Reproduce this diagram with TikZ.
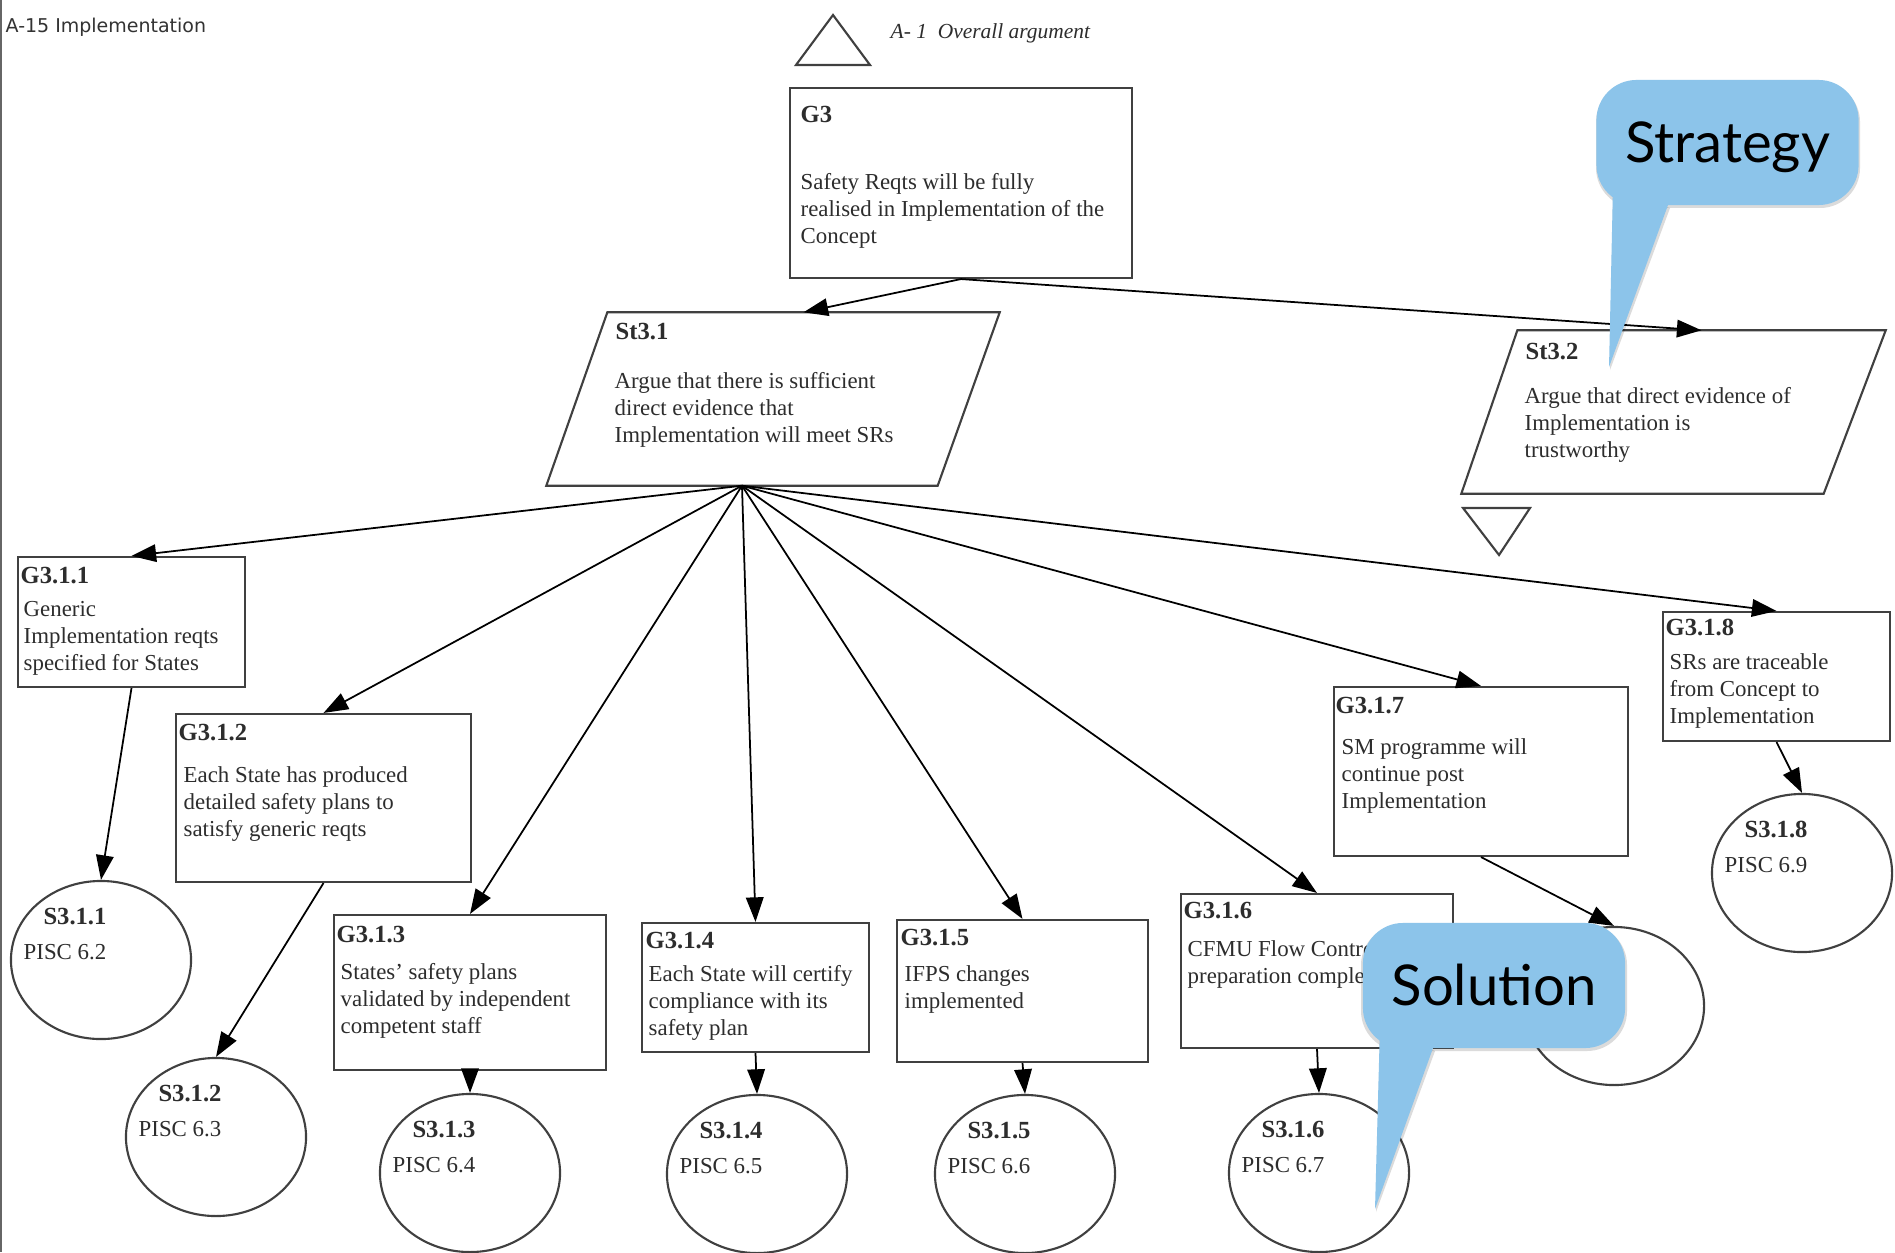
\documentclass[tikz,border=0pt]{standalone}
\usepackage{fontspec}
\setmainfont{Liberation Serif}
\newfontfamily\sheetfont{DejaVu Sans}
\newfontfamily\bubblefont{Lato}
\usetikzlibrary{arrows.meta,shapes.geometric,fit}
\definecolor{bubblecol}{RGB}{140,196,234}
\definecolor{ink}{RGB}{45,45,45}

\begin{document}
\begin{tikzpicture}[x=0.01cm, y=-0.01cm,
	outline/.style={draw=black!75, line width=0.6pt},
	goal/.style={outline, inner sep=0pt},
	soln/.style={outline, ellipse, minimum width=1.8cm, minimum height=1.58cm, inner sep=0pt},
	ttl/.style={anchor=base west, inner sep=0pt, font=\fontsize{7}{8}\selectfont\bfseries, text=ink},
	stl/.style={anchor=base, inner sep=0pt, font=\fontsize{7}{8}\selectfont\bfseries, text=ink},
	txt/.style={anchor=north west, inner sep=0pt, align=left, font=\fontsize{6.5}{7.68}\selectfont, text=ink},
	pisc/.style={anchor=base west, inner sep=0pt, font=\fontsize{6.5}{7.68}\selectfont, text=ink},
	arr/.style={-{Triangle[length=7pt,width=5pt]}, line width=0.5pt},
	bubble/.style={fill=bubblecol, rounded corners=0.4cm, minimum width=2.62cm, minimum height=1.25cm, inner sep=0pt, text height=0.4cm, text depth=0cm, font=\bubblefont\fontsize{16}{18}\selectfont},
	shade/.style={fill=black, opacity=0.14}
]
	\useasboundingbox (0,0) rectangle (1895,1252);
	\fill[white] (0,0) rectangle (1895,1252);
	\draw[black!60, line width=0.8pt] (1,0) -- (1,1252);
	\node[anchor=base west, inner sep=0pt, font=\sheetfont\fontsize{5.4}{6}\selectfont, text=black!80] (sheet) at (5,33) {A-15 Implementation};

	% top of the argument
	\draw[outline] (796,65) -- (833,15) -- (870,65) -- cycle;
	\node[anchor=base west, inner sep=0pt, font=\fontsize{6.1}{7}\selectfont\itshape, text=ink] (away) at (890,39) {A- 1\enspace Overall argument};

	\node[goal, fit={(790,88) (1132,278)}] (G3) {};
	\node[ttl] (G3t) at (800,123) {G3};
	\node[txt] (G3b) at (800,173) {Safety Reqts will be fully\\realised in Implementation of the\\Concept};

	% strategies
	\node[fit={(547,313) (999,485)}, inner sep=0pt] (St31) {};
	\draw[outline] (St31.south west) -- ([xshift=0.61cm]St31.north west) -- (St31.north east) -- ([xshift=-0.62cm]St31.south east) -- cycle;
	\coordinate (St31in) at ([xshift=0.305cm]St31.north);
	\coordinate (St31out) at ([xshift=-0.31cm]St31.south);
	\node[ttl] (St31t) at (615,340) {St3.1};
	\node[txt] (St31b) at (614,372) {Argue that there is sufficient\\direct evidence that\\Implementation will meet SRs};

	\node[fit={(1462,331) (1885,493)}, inner sep=0pt] (St32) {};
	\draw[outline] (St32.south west) -- ([xshift=0.56cm]St32.north west) -- (St32.north east) -- ([xshift=-0.62cm]St32.south east) -- cycle;
	\coordinate (St32in) at ([xshift=0.28cm]St32.north);
	\node[ttl] (St32t) at (1525,360) {St3.2};
	\node[txt] (St32b) at (1524,387) {Argue that direct evidence of\\Implementation is\\trustworthy};
	\draw[outline] (1463,508) -- (1530,508) -- (1499,555) -- cycle;

	% sub-goals
	\node[goal, fit={(18,557) (245,687)}] (G311) {};
	\node[ttl] (G311t) at (20,583) {G3.1.1};
	\node[txt] (G311b) at (23,601) {Generic\\Implementation reqts\\specified for States};

	\node[goal, fit={(176,714) (471,882)}] (G312) {};
	\node[ttl] (G312t) at (178,740) {G3.1.2};
	\node[txt] (G312b) at (183,766) {Each State has produced\\detailed safety plans to\\satisfy generic reqts};

	\node[goal, fit={(334,915) (606,1070)}] (G313) {};
	\node[ttl] (G313t) at (336,942) {G3.1.3};
	\node[txt] (G313b) at (340,963) {States' safety plans\\validated by independent\\competent staff};

	\node[goal, fit={(642,923) (869,1052)}] (G314) {};
	\node[ttl] (G314t) at (645,948) {G3.1.4};
	\node[txt] (G314b) at (648,965) {Each State will certify\\compliance with its\\safety plan};

	\node[goal, fit={(897,920) (1148,1062)}] (G315) {};
	\node[ttl] (G315t) at (900,945) {G3.1.5};
	\node[txt] (G315b) at (904,965) {IFPS changes\\implemented};

	\node[goal, fit={(1181,894) (1453,1048)}] (G316) {};
	\node[ttl] (G316t) at (1183,918) {G3.1.6};
	\node[txt] (G316b) at (1187,940) {CFMU Flow Control\\preparation complete};

	\node[goal, fit={(1334,687) (1628,856)}] (G317) {};
	\node[ttl] (G317t) at (1335,713) {G3.1.7};
	\node[txt] (G317b) at (1341,738) {SM programme will\\continue post\\Implementation};

	\node[goal, fit={(1663,612) (1890,741)}] (G318) {};
	\node[ttl] (G318t) at (1665,635) {G3.1.8};
	\node[txt] (G318b) at (1669,653) {SRs are traceable\\from Concept to\\Implementation};

	% solutions
	\node[soln] (S311) at (101,960) {};
	\node[stl] (S311t) at ([shift={(-26,-36)}]S311.center) {S3.1.1};
	\node[pisc] (S311p) at ([shift={(-78,-1)}]S311.center) {PISC 6.2};

	\node[soln] (S312) at (216,1137) {};
	\node[stl] (S312t) at ([shift={(-26,-36)}]S312.center) {S3.1.2};
	\node[pisc] (S312p) at ([shift={(-78,-1)}]S312.center) {PISC 6.3};

	\node[soln] (S313) at (470,1173) {};
	\node[stl] (S313t) at ([shift={(-26,-36)}]S313.center) {S3.1.3};
	\node[pisc] (S313p) at ([shift={(-78,-1)}]S313.center) {PISC 6.4};

	\node[soln] (S314) at (757,1174) {};
	\node[stl] (S314t) at ([shift={(-26,-36)}]S314.center) {S3.1.4};
	\node[pisc] (S314p) at ([shift={(-78,-1)}]S314.center) {PISC 6.5};

	\node[soln] (S315) at (1025,1174) {};
	\node[stl] (S315t) at ([shift={(-26,-36)}]S315.center) {S3.1.5};
	\node[pisc] (S315p) at ([shift={(-78,-1)}]S315.center) {PISC 6.6};

	\node[soln] (S316) at (1319,1173) {};
	\node[stl] (S316t) at ([shift={(-26,-36)}]S316.center) {S3.1.6};
	\node[pisc] (S316p) at ([shift={(-78,-1)}]S316.center) {PISC 6.7};

	\node[soln] (S317) at (1614,1006) {};

	\node[soln] (S318) at (1802,873) {};
	\node[stl] (S318t) at ([shift={(-26,-36)}]S318.center) {S3.1.8};
	\node[pisc] (S318p) at ([shift={(-78,-1)}]S318.center) {PISC 6.9};

	% connectors
	\draw[arr] (G3.south) -- (St31in);
	\draw[arr] (G3.south) -- (St32in);
	\draw[arr] (St31out) -- (G311.north);
	\draw[arr] (St31out) -- (G312.north);
	\draw[arr] (St31out) -- (G313.north);
	\draw[arr] (St31out) -- (G314.north);
	\draw[arr] (St31out) -- (G315.north);
	\draw[arr] (St31out) -- (G316.north);
	\draw[arr] (St31out) -- (G317.north);
	\draw[arr] (St31out) -- (G318.north);
	\draw[arr] (G311.south) -- (S311.north);
	\draw[arr] (G312.south) -- (S312.north);
	\draw[arr] (G313.south) -- (S313.north);
	\draw[arr] (G314.south) -- (S314.north);
	\draw[arr] (G315.south) -- (S315.north);
	\draw[arr] (G316.south) -- (S316.north);
	\draw[arr] (G317.south) -- (S317.north);
	\draw[arr] (G318.south) -- (S318.north);

	% callouts
	\coordinate (StratTip) at (1609,367);
	\coordinate (SolTip) at (1375,1209);
	\fill[shade, rounded corners=0.4cm] (1596,82) rectangle (1860,208);
	\fill[shade] (1613,190) -- ([shift={(1,3)}]StratTip) -- (1670,208) -- cycle;
	\fill[shade, rounded corners=0.4cm] (1361,925) rectangle (1627,1051);
	\fill[shade] (1380,1030) -- ([shift={(1,3)}]SolTip) -- (1435,1051) -- cycle;
	\fill[bubblecol] (1613,185) -- (StratTip) -- (1668,205) -- cycle;
	\fill[bubblecol] (1380,1025) -- (SolTip) -- (1433,1048) -- cycle;
	\node[bubble] (Strategy) at (1727.5,142.5) {Strategy};
	\node[bubble] (Solution) at (1494,985.5) {Solution};
\end{tikzpicture}
\end{document}
